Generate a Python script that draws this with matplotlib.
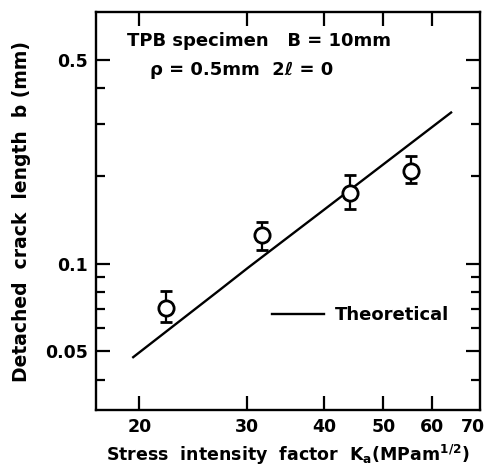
import matplotlib
matplotlib.use("Agg")
import matplotlib.pyplot as plt
from matplotlib.ticker import FixedLocator, NullFormatter, FixedFormatter

plt.rcParams['font.family'] = ['DejaVu Sans']
plt.rcParams['font.weight'] = 'bold'
plt.rcParams['axes.labelweight'] = 'bold'
plt.rcParams['mathtext.default'] = 'bf'

# Experimental data
K_exp = [22.1, 31.7, 44.2, 55.5]
b_exp = [0.0702, 0.1256, 0.1745, 0.2075]
b_err_low = [0.0629, 0.1116, 0.154, 0.1889]
b_err_high = [0.0803, 0.139, 0.201, 0.2334]

# Theoretical curve
K_theo = [19.55, 27.0, 30.1, 39.4, 64.5]
b_theo = [0.0478, 0.0810, 0.0969, 0.1492, 0.3297]

xticks = [20, 30, 40, 50, 60, 70]
xticklabels = ['20', '30', '40', '50', '60', '70']
yticks = [0.05, 0.1, 0.5]
yticklabels = ['0.05', '0.1', '0.5']
yminor = [0.04, 0.06, 0.07, 0.08, 0.09, 0.2, 0.3, 0.4]

fig = plt.figure(figsize=(4.88, 4.72), dpi=100)
ax = fig.add_axes([96/488, 1-410/472, 384/488, 398/472])
ax.set_xscale('log')
ax.set_yscale('log')
ax.set_xlim(17.0, 71.9)
ax.set_ylim(0.0315, 0.729)

ax.plot(K_theo, b_theo, color='black', lw=1.7, label='Theoretical')

yerr = [[b - lo for b, lo in zip(b_exp, b_err_low)],
        [hi - b for b, hi in zip(b_exp, b_err_high)]]
ax.errorbar(K_exp, b_exp, yerr=yerr, fmt='o', mfc='white', mec='black',
            mew=2.0, ms=11, ecolor='black', elinewidth=1.6, capsize=4,
            capthick=1.6, zorder=3)

ax.xaxis.set_major_locator(FixedLocator(xticks))
ax.xaxis.set_major_formatter(FixedFormatter(xticklabels))
ax.xaxis.set_minor_locator(FixedLocator([]))
ax.yaxis.set_major_locator(FixedLocator(yticks))
ax.yaxis.set_major_formatter(FixedFormatter(yticklabels))
ax.yaxis.set_minor_locator(FixedLocator(yminor))
ax.yaxis.set_minor_formatter(NullFormatter())

ax.tick_params(which='both', direction='in', top=True, right=True, width=1.6)
ax.tick_params(which='major', length=10, labelsize=12.5, pad=6)
ax.tick_params(which='minor', length=6.5)
for s in ax.spines.values():
    s.set_linewidth(1.7)
for t in ax.xaxis.get_major_ticks()[-1:]:
    t.tick1line.set_visible(False)
    t.tick2line.set_visible(False)

ax.set_xlabel(r'Stress  intensity  factor  K$_{a}$(MPam$^{1/2}$)', fontsize=12.5, labelpad=5)
ax.set_ylabel('Detached  crack  length  b (mm)', fontsize=13.5, labelpad=10)

ax.text((127-96)/384, (410-41)/398, 'TPB specimen   B = 10mm', transform=ax.transAxes,
        fontsize=13, va='center', ha='left')
ax.text((150-96)/384, (410-70)/398, 'ρ = 0.5mm  2ℓ = 0', transform=ax.transAxes,
        fontsize=13, va='center', ha='left')

ax.legend(loc='center left', bbox_to_anchor=((272-96)/384, (410-315)/398),
          frameon=False, fontsize=13, handlelength=2.9, borderpad=0,
          borderaxespad=0, handletextpad=0.6)

fig.savefig('out.png', dpi=100)
